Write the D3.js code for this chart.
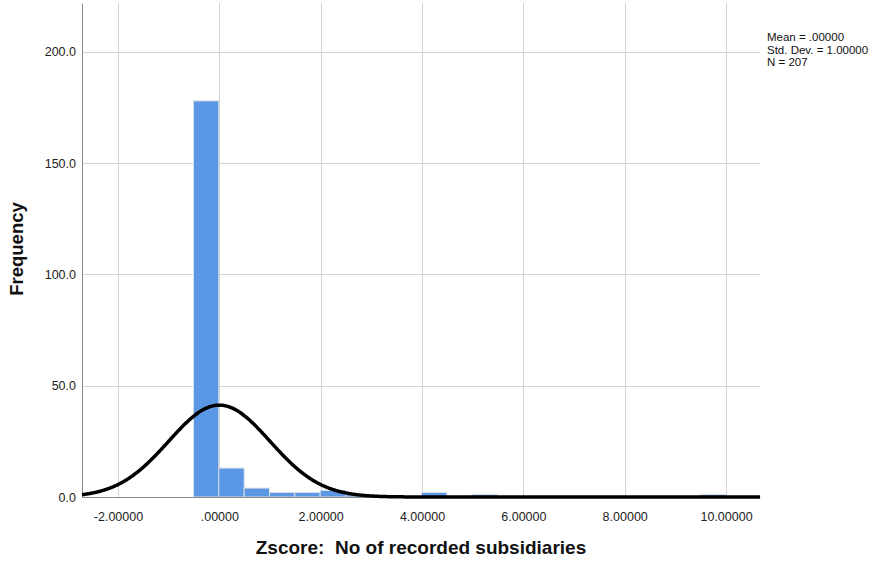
<!DOCTYPE html>
<html>
<head>
<meta charset="utf-8">
<script src="https://cdn.jsdelivr.net/npm/d3@7"></script>
<style>
  html, body { margin: 0; padding: 0; background: #fff; }
  svg { display: block; font-family: Arial, "Liberation Sans", sans-serif; }
</style>
</head>
<body>
<svg id="chart" width="886" height="565"></svg>
<script>
// Histogram bins: lower edge of each bin (z-score units) and its frequency
const binStarts = [-0.51, -0.01, 0.49, 0.99, 1.49, 1.99, 2.49, 3.99, 4.99, 9.49];
const binCounts = [178, 13, 4, 2, 2, 3, 1, 2, 1, 1];
const binWidth = 0.5;

// Tick values shown on the axes
const xTicks = [-2, 0, 2, 4, 6, 8, 10];
const yTicks = [0, 50, 100, 150, 200];

// Summary statistics of the variable
const statMean = 0;
const statSD = 1;
const statN = 207;
const statLines = ["Mean = .00000", "Std. Dev. = 1.00000", "N = 207"];

const xTitle = "Zscore:  No of recorded subsidiaries";
const yTitle = "Frequency";

const W = 886, H = 565;
const margin = { top: 3, right: 126, bottom: 68, left: 82 };
const svg = d3.select("#chart");

const x = d3.scaleLinear().domain([-2.71, 10.67]).range([margin.left, W - margin.right]);
const y = d3.scaleLinear().domain([0, 222]).range([H - margin.bottom, margin.top]);

// number format with a plain hyphen for negatives and no leading zero
const locale = d3.formatLocale({ decimal: ".", thousands: ",", grouping: [3], currency: ["", ""], minus: "-" });
const fmtX = v => locale.format(".5f")(v).replace(/^(-?)0\./, "$1.");
const fmtY = locale.format(".1f");

// grid
const grid = svg.append("g");
grid.selectAll("line.gx").data(xTicks).join("line")
  .attr("x1", d => Math.round(x(d)) + 0.5).attr("x2", d => Math.round(x(d)) + 0.5)
  .attr("y1", margin.top).attr("y2", y(0))
  .attr("stroke", "#d2d2d2").attr("stroke-width", 1);
grid.selectAll("line.gy").data(yTicks).join("line")
  .attr("x1", margin.left).attr("x2", W - margin.right)
  .attr("y1", d => Math.round(y(d)) + 0.5).attr("y2", d => Math.round(y(d)) + 0.5)
  .attr("stroke", "#d2d2d2").attr("stroke-width", 1);

// bars
const bins = binStarts.map((s, i) => ({ x0: s, x1: s + binWidth, n: binCounts[i] }));
svg.append("g").selectAll("rect").data(bins).join("rect")
  .attr("x", d => x(d.x0))
  .attr("width", d => x(d.x1) - x(d.x0))
  .attr("y", d => y(d.n))
  .attr("height", d => y(0) - y(d.n))
  .attr("fill", "#5a98e6")
  .attr("stroke", "#d8dde6")
  .attr("stroke-width", 1);

// axes
const xAxis = d3.axisBottom(x).tickValues(xTicks).tickFormat(fmtX).tickSize(0).tickPadding(15);
const gx = svg.append("g").attr("transform", `translate(0,${y(0)})`).call(xAxis);
gx.select(".domain").attr("stroke", "#8a8a8a");
gx.selectAll("text").attr("font-size", 12.5).attr("fill", "#222").attr("font-family", "Arial, 'Liberation Sans', sans-serif");

const yAxis = d3.axisLeft(y).tickValues(yTicks).tickFormat(fmtY).tickSize(0).tickPadding(6);
const gy = svg.append("g").attr("transform", `translate(${margin.left},0)`).call(yAxis);
gy.select(".domain").attr("stroke", "#8a8a8a");
gy.selectAll("text").attr("font-size", 12.5).attr("fill", "#222").attr("font-family", "Arial, 'Liberation Sans', sans-serif");

// fitted normal curve from the summary statistics
const [dx0, dx1] = x.domain();
const curvePts = d3.range(dx0, dx1 + 0.001, 0.02).map(v => {
  const z = (v - statMean) / statSD;
  const f = statN * binWidth * Math.exp(-0.5 * z * z) / (statSD * Math.sqrt(2 * Math.PI));
  return [v, f];
});
svg.append("path").datum(curvePts)
  .attr("fill", "none").attr("stroke", "#000").attr("stroke-width", 3.5)
  .attr("d", d3.line().x(d => x(d[0])).y(d => y(d[1])).curve(d3.curveBasis));

// statistics block
svg.append("g").selectAll("text").data(statLines).join("text")
  .attr("x", 767).attr("y", (d, i) => 41 + i * 12.5)
  .attr("font-size", 11.5).attr("fill", "#111")
  .text(d => d);

// titles
svg.append("text")
  .attr("x", 421).attr("y", 554)
  .attr("text-anchor", "middle").attr("font-size", 19).attr("font-weight", "bold").attr("fill", "#111")
  .style("white-space", "pre")
  .text(xTitle);
svg.append("text")
  .attr("transform", "translate(23,249) rotate(-90)")
  .attr("text-anchor", "middle").attr("font-size", 18.5).attr("font-weight", "bold").attr("fill", "#111")
  .text(yTitle);
</script>
</body>
</html>
